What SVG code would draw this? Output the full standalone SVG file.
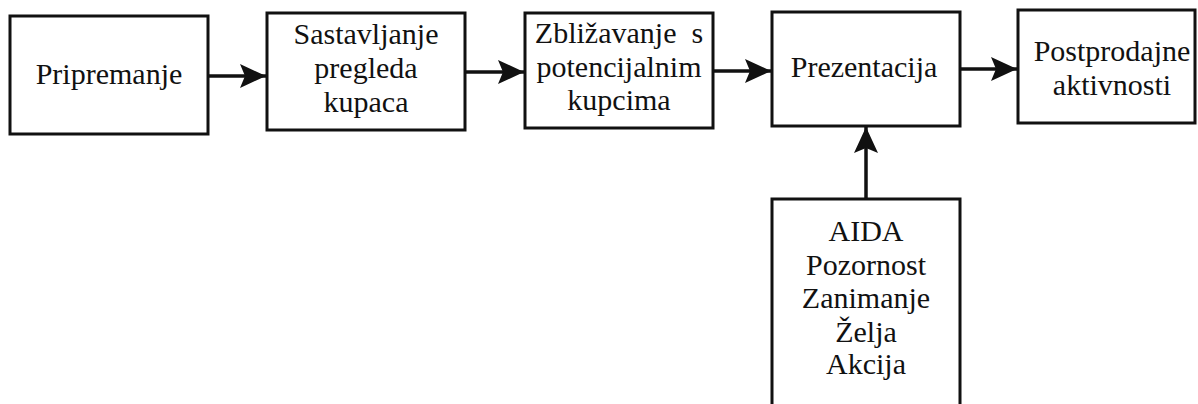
<svg xmlns="http://www.w3.org/2000/svg" width="1198" height="404" viewBox="0 0 1198 404">
<style>
.box{fill:#fff;stroke:#111;stroke-width:3}
.t{font-family:"Liberation Serif","Times New Roman",serif;font-size:30px;fill:#111;text-anchor:middle}
.c{stroke:#111;stroke-width:3.5;fill:none}
</style>
<defs>
<marker id="ah" markerUnits="userSpaceOnUse" markerWidth="28" markerHeight="26" refX="26" refY="13" orient="auto">
<path d="M0,1 L26,13 L0,25 L5,13 Z" fill="#111"/>
</marker>
</defs>
<rect width="1198" height="404" fill="#fff"/>
<g id="n1"><rect class="box" x="10" y="16" width="198" height="118"/><text class="t" x="109" y="84">Pripremanje</text></g>
<g id="n2"><rect class="box" x="267" y="13" width="198" height="117"/><text class="t" x="366" y="44">Sastavljanje</text><text class="t" x="366" y="78">pregleda</text><text class="t" x="366" y="112">kupaca</text></g>
<g id="n3"><rect class="box" x="525" y="13" width="188" height="115"/><text class="t" x="619" y="43" xml:space="preserve">Zbližavanje  s</text><text class="t" x="619" y="77">potencijalnim</text><text class="t" x="619" y="110">kupcima</text></g>
<g id="n4"><rect class="box" x="772" y="12" width="188" height="114"/><text class="t" x="864" y="77">Prezentacija</text></g>
<g id="n5"><rect class="box" x="1018" y="10" width="177" height="113"/><text class="t" x="1112" y="61">Postprodajne</text><text class="t" x="1112" y="95">aktivnosti</text></g>
<g id="n6"><rect class="box" x="772" y="199" width="188" height="220"/><text class="t" x="866" y="241">AIDA</text><text class="t" x="866" y="275">Pozornost</text><text class="t" x="866" y="308">Zanimanje</text><text class="t" x="866" y="342">Želja</text><text class="t" x="866" y="374">Akcija</text></g>
<g id="connectors">
<line class="c" x1="208" y1="76" x2="266" y2="76" marker-end="url(#ah)"/>
<line class="c" x1="465" y1="72" x2="524" y2="72" marker-end="url(#ah)"/>
<line class="c" x1="713" y1="71" x2="771" y2="71" marker-end="url(#ah)"/>
<line class="c" x1="960" y1="69" x2="1017" y2="69" marker-end="url(#ah)"/>
<line class="c" x1="866" y1="199" x2="866" y2="127" marker-end="url(#ah)"/>
</g>
</svg>
